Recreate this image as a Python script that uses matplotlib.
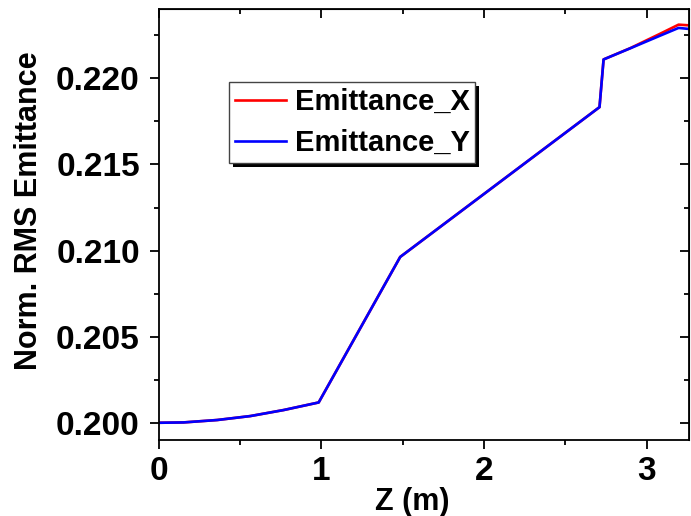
import numpy as np
import matplotlib.pyplot as plt
from matplotlib.ticker import MultipleLocator
from matplotlib.patches import Rectangle

# beam emittance along z
z = [0.0, 0.153, 0.36, 0.564, 0.769, 0.984, 1.485, 2.71, 2.735, 2.9, 3.08, 3.196, 3.26]
emit_x = [0.2000, 0.20002, 0.20016, 0.20039, 0.20074, 0.20118, 0.20963,
          0.21833, 0.22110, 0.22176, 0.22258, 0.22312, 0.22308]
emit_y = [0.2000, 0.20002, 0.20016, 0.20039, 0.20074, 0.20118, 0.20963,
          0.21833, 0.22110, 0.22175, 0.22247, 0.22293, 0.22287]

plt.rcParams['font.family'] = ['Liberation Sans', 'DejaVu Sans']
plt.rcParams['font.weight'] = 'bold'

fig = plt.figure(figsize=(6.91, 5.16), dpi=100)
ax = fig.add_axes([0.2295, 0.1473, 0.7676, 0.8343])

ax.plot(z, emit_x, color='#ff0000', lw=1.9, label='Emittance_X')
ax.plot(z, emit_y, color='#0000ff', lw=1.9, label='Emittance_Y')

ax.set_xlim(0, 3.26)
ax.set_ylim(0.199, 0.224)
ax.xaxis.set_major_locator(MultipleLocator(1))
ax.xaxis.set_minor_locator(MultipleLocator(0.5))
ax.yaxis.set_major_locator(MultipleLocator(0.005))
ax.yaxis.set_minor_locator(MultipleLocator(0.0025))
ax.yaxis.set_major_formatter(plt.FormatStrFormatter('%.3f'))

for s in ax.spines.values():
    s.set_linewidth(1.3)
ax.tick_params(which='major', direction='out', length=6.5, width=1.3,
               labelsize=24, pad=5)
ax.tick_params(which='minor', direction='out', length=3.5, width=1.3)
ax.tick_params(axis='y', which='major', pad=7)

# mirrored ticks on top/right, pointing inward
top = ax.secondary_xaxis('top')
top.xaxis.set_major_locator(MultipleLocator(1))
top.xaxis.set_minor_locator(MultipleLocator(0.5))
top.tick_params(which='major', direction='in', length=6.5, width=1.3, labeltop=False)
top.tick_params(which='minor', direction='in', length=3.5, width=1.3)
right = ax.secondary_yaxis('right')
right.yaxis.set_major_locator(MultipleLocator(0.005))
right.yaxis.set_minor_locator(MultipleLocator(0.0025))
right.tick_params(which='major', direction='in', length=6.5, width=1.3, labelright=False)
right.tick_params(which='minor', direction='in', length=3.5, width=1.3)

ax.set_xlabel('Z (m)', fontsize=22, fontweight='bold', labelpad=0)
ax.set_ylabel('Norm. RMS Emittance', fontsize=22, fontweight='bold', labelpad=9)
ax.xaxis.label.set_x(0.479)
ax.yaxis.label.set_y(0.533)

leg = ax.legend(loc='upper left', bbox_to_anchor=(0.133, 0.831), borderaxespad=0,
                fontsize=21, handlelength=1.75, handletextpad=0.3, labelspacing=0.45,
                borderpad=0.2, fancybox=False, framealpha=1)
leg.get_frame().set_edgecolor('#444444')
leg.get_frame().set_linewidth(1.0)

# solid black drop shadow, offset a few pixels down-right
fig.canvas.draw()
bb = leg.get_window_extent()
ax.add_patch(Rectangle((bb.x0 + 4, bb.y0 - 4), bb.width, bb.height, transform=None,
                       facecolor='black', edgecolor='none', zorder=4.9, clip_on=False))

fig.savefig('out.png', dpi=100)
